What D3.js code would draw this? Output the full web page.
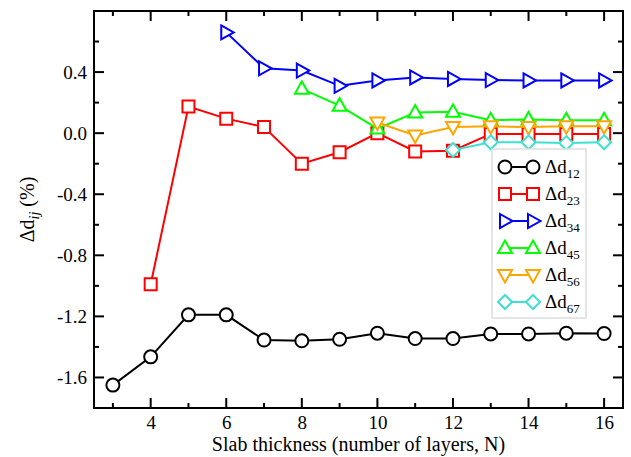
<!DOCTYPE html>
<html><head><meta charset="utf-8">
<script src="https://cdn.jsdelivr.net/npm/d3@7"></script>
<style>body{margin:0;background:#fff} text{font-family:"Liberation Serif","Times New Roman",serif}</style>
</head><body><svg id="c" width="631" height="457"></svg>
<script>
// ---- data ----
const n12 = [3,4,5,6,7,8,9,10,11,12,13,14,15,16];
const d12 = [-1.65,-1.465,-1.19,-1.19,-1.355,-1.36,-1.35,-1.31,-1.345,-1.345,-1.315,-1.315,-1.31,-1.312];
const n23 = [4,5,6,7,8,9,10,11,12,13,14,15,16];
const d23 = [-0.99,0.175,0.095,0.04,-0.2,-0.125,0.0,-0.12,-0.115,-0.005,-0.005,-0.005,-0.005];
const n34 = [6,7,8,9,10,11,12,13,14,15,16];
const d34 = [0.66,0.425,0.41,0.31,0.345,0.365,0.355,0.348,0.345,0.345,0.345];
const n45 = [8,9,10,11,12,13,14,15,16];
const d45 = [0.29,0.18,0.03,0.135,0.14,0.085,0.09,0.085,0.085];
const n56 = [10,11,12,13,14,15,16];
const d56 = [0.07,-0.015,0.04,0.045,0.04,0.045,0.045];
const n67 = [12,13,14,15,16];
const d67 = [-0.11,-0.06,-0.06,-0.065,-0.06];
const seriesNames = ["12","23","34","45","56","67"];
const seriesColors = ["#000000","#ff0000","#0000ff","#00ff00","#ffa500","#40e0d0"];
const seriesShapes = ["circle","square","triRight","triUp","triDown","diamond"];
const xMajor = [4,6,8,10,12,14,16];
const xMinor = [3,5,7,9,11,13,15];
const yMajor = [-1.6,-1.2,-0.8,-0.4,0.0,0.4];
const yMinor = [-1.4,-1.0,-0.6,-0.2,0.2,0.6];

const series = [[n12,d12],[n23,d23],[n34,d34],[n45,d45],[n56,d56],[n67,d67]];

const L=94,R=623,T=11,B=408;
const svg = d3.select("#c");
const x = d3.scaleLinear().domain([2.5,16.5]).range([L,R]);
const y = d3.scaleLinear().domain([-1.8,0.8]).range([B,T]);

function shapePath(s){
  switch(s){
    case "circle": return d3.symbol(d3.symbolCircle, Math.PI*6.5*6.5)();
    case "square": return "M-6,-6H6V6H-6Z";
    case "triRight": return "M-5,-7L7.5,0L-5,7Z";
    case "triUp": return "M-7,5L0,-7.5L7,5Z";
    case "triDown": return "M-7,-5L0,7.5L7,-5Z";
    case "diamond": return "M0,-7L7,0L0,7L-7,0Z";
  }
}

// axes with labels
const fmt = d => d.toFixed(1);
const gx = svg.append("g").attr("transform",`translate(0,${B})`)
  .call(d3.axisBottom(x).tickValues(xMajor).tickSizeInner(0).tickSizeOuter(0).tickPadding(8).tickFormat(d=>d));
const gy = svg.append("g").attr("transform",`translate(${L},0)`)
  .call(d3.axisLeft(y).tickValues(yMajor).tickSizeInner(0).tickSizeOuter(0).tickPadding(7).tickFormat(fmt));
[gx,gy].forEach(g=>{g.select(".domain").remove(); g.selectAll("text").attr("font-size",19).attr("fill","#000").attr("font-family","Liberation Serif");});

// ticks on all sides (inward)
const tk = svg.append("g").attr("stroke","#000").attr("stroke-width",2);
[[xMajor,10],[xMinor,5]].forEach(([v,len])=>{
  v.forEach(d=>{
    tk.append("line").attr("x1",x(d)).attr("x2",x(d)).attr("y1",B).attr("y2",B-len);
    tk.append("line").attr("x1",x(d)).attr("x2",x(d)).attr("y1",T).attr("y2",T+len);
  });
});
[[yMajor,10],[yMinor,5]].forEach(([v,len])=>{
  v.forEach(d=>{
    tk.append("line").attr("y1",y(d)).attr("y2",y(d)).attr("x1",L).attr("x2",L+len);
    tk.append("line").attr("y1",y(d)).attr("y2",y(d)).attr("x1",R).attr("x2",R-len);
  });
});

// series
const line = d3.line().x(d=>x(d[0])).y(d=>y(d[1]));
series.forEach(([xs,ys],i)=>{
  const pts = xs.map((v,j)=>[v,ys[j]]);
  const g = svg.append("g");
  g.append("path").attr("d",line(pts)).attr("fill","none").attr("stroke",seriesColors[i]).attr("stroke-width",2);
  g.selectAll("path.m").data(pts).join("path").attr("class","m")
    .attr("d",shapePath(seriesShapes[i]))
    .attr("transform",d=>`translate(${x(d[0])},${y(d[1])})`)
    .attr("fill","#fff").attr("stroke",seriesColors[i]).attr("stroke-width",2);
});

// frame
svg.append("rect").attr("x",L).attr("y",T).attr("width",R-L).attr("height",B-T)
  .attr("fill","none").attr("stroke","#000").attr("stroke-width",2);

// legend
const lg = svg.append("g");
lg.append("rect").attr("x",492).attr("y",149).attr("width",94).attr("height",169)
  .attr("fill","#fff").attr("stroke","#ddd").attr("stroke-width",1.5);
seriesNames.forEach((nm,i)=>{
  const cy = 167 + i*27;
  lg.append("line").attr("x1",505).attr("x2",533).attr("y1",cy).attr("y2",cy).attr("stroke",seriesColors[i]).attr("stroke-width",2);
  [505,533].forEach(cx=>lg.append("path").attr("d",shapePath(seriesShapes[i])).attr("transform",`translate(${cx},${cy})`)
    .attr("fill","#fff").attr("stroke",seriesColors[i]).attr("stroke-width",2));
  const t = lg.append("text").attr("x",545).attr("y",cy+6).attr("font-size",19).attr("fill","#000");
  t.append("tspan").text("Δd");
  t.append("tspan").attr("font-size",13).attr("dy",5).text(nm);
});

// axis titles
svg.append("text").attr("x",(L+R)/2).attr("y",451).attr("text-anchor","middle").attr("font-size",20).attr("fill","#000")
  .text("Slab thickness (number of layers, N)");
const yt = svg.append("text").attr("transform",`translate(34,${(T+B)/2}) rotate(-90)`).attr("text-anchor","middle").attr("font-size",20).attr("fill","#000");
yt.append("tspan").text("Δd");
yt.append("tspan").attr("font-size",14).attr("font-style","italic").attr("dy",5).text("ij");
yt.append("tspan").attr("dy",-5).text(" (%)");
</script></body></html>
